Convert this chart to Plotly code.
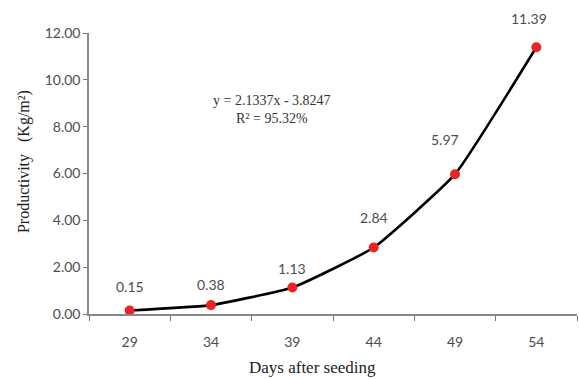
import plotly.graph_objects as go

days = [29, 34, 39, 44, 49, 54]
productivity = [0.15, 0.38, 1.13, 2.84, 5.97, 11.39]
value_labels = ["0.15", "0.38", "1.13", "2.84", "5.97", "11.39"]
label_shift = [24, 21, 19, 30, 35, 29]
label_xshift = [0, 0, 0, 0, -10, -7]
y_ticks = [0, 2, 4, 6, 8, 10, 12]
y_tick_text = ["0.00", "2.00", "4.00", "6.00", "8.00", "10.00", "12.00"]
x_boundaries = [26.5, 31.5, 36.5, 41.5, 46.5, 51.5, 56.5]

gray = "#4d4d4d"
num_font = "Lato, Liberation Sans, sans-serif"
fig = go.Figure()
fig.add_trace(go.Scatter(
    x=days, y=productivity, mode="lines+markers",
    line=dict(color="black", width=2.6, shape="spline", smoothing=0.4),
    marker=dict(color="#ee2222", size=10),
    showlegend=False, cliponaxis=False,
))
for d, v, t, s, xs in zip(days, productivity, value_labels, label_shift, label_xshift):
    fig.add_annotation(x=d, y=v, text=t, showarrow=False, yshift=s, xshift=xs,
                       font=dict(family=num_font, size=14, color=gray))

fig.add_annotation(xref="paper", yref="paper", x=0.25, y=0.795,
                   text="y = 2.1337x - 3.8247<br>R² = 95.32%", showarrow=False,
                   font=dict(family="Liberation Serif, serif", size=14, color="#333333"))

fig.add_annotation(xref="paper", yref="paper", x=0.459, y=-0.19, yanchor="middle",
                   text="Days after seeding", showarrow=False,
                   font=dict(family="Liberation Serif, serif", size=17, color="#222222"))

fig.add_annotation(xref="paper", yref="paper", x=-0.133, y=0.541,
                   xanchor="center", yanchor="middle", textangle=-90,
                   text="Productivity   (Kg/m²)", showarrow=False,
                   font=dict(family="Liberation Serif, serif", size=16, color="#222222"))

fig.update_xaxes(
    range=[26.5, 56.5], tickvals=days, ticktext=[str(d) for d in days],
    ticks="outside", ticklen=0, ticklabelstandoff=14,
    minor=dict(tickvals=x_boundaries, ticks="outside", ticklen=5, tickcolor="#777777"),
    showline=True, linecolor="#888888", linewidth=1.5,
    showgrid=False, zeroline=False,
    tickfont=dict(family=num_font, size=14, color=gray),
)
fig.update_yaxes(
    range=[0, 12], tickvals=y_ticks, ticktext=y_tick_text, ticks="outside", ticklen=4,
    tickcolor="#777777", showline=True, linecolor="#888888", linewidth=1.5,
    showgrid=False, zeroline=False,
    tickfont=dict(family=num_font, size=14, color=gray),
)
fig.update_layout(
    width=579, height=379, margin=dict(l=89, r=2, t=33, b=65),
    paper_bgcolor="white", plot_bgcolor="white",
)
fig.write_html("out.html")
